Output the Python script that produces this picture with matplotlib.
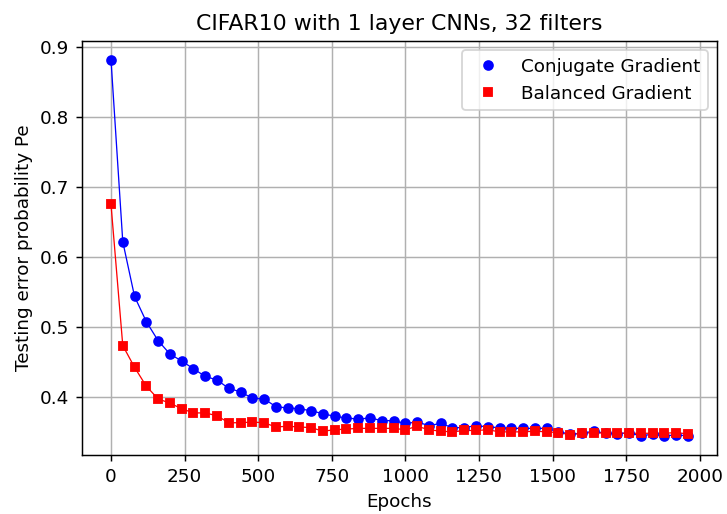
import numpy as np
import matplotlib
matplotlib.use('Agg')
import matplotlib.pyplot as plt

# test error recorded every 40 epochs
epochs = np.arange(0, 2000, 40)

conj_grad = [0.881, 0.622, 0.544, 0.508, 0.481, 0.462, 0.452, 0.441, 0.430, 0.425,
             0.413, 0.408, 0.399, 0.398, 0.387, 0.385, 0.384, 0.381, 0.377, 0.373,
             0.371, 0.369, 0.371, 0.367, 0.367, 0.363, 0.365, 0.360, 0.363, 0.357,
             0.357, 0.360, 0.358, 0.357, 0.356, 0.356, 0.356, 0.356, 0.351, 0.348,
             0.349, 0.352, 0.349, 0.348, 0.350, 0.345, 0.348, 0.345, 0.347, 0.345]

bal_grad = [0.675, 0.474, 0.443, 0.416, 0.398, 0.392, 0.384, 0.378, 0.378, 0.374,
            0.364, 0.364, 0.365, 0.364, 0.358, 0.359, 0.358, 0.357, 0.352, 0.354,
            0.355, 0.356, 0.356, 0.356, 0.356, 0.354, 0.359, 0.354, 0.352, 0.351,
            0.353, 0.353, 0.354, 0.351, 0.351, 0.351, 0.352, 0.351, 0.350, 0.347,
            0.349, 0.350, 0.349, 0.349, 0.349, 0.349, 0.349, 0.349, 0.350, 0.348]

DPI = 132
fig, ax = plt.subplots(figsize=(727 / DPI, 514 / DPI), dpi=DPI)
# connecting lines first, then the markers that carry the legend entries
ax.plot(epochs, conj_grad, color='blue', lw=0.7)
ax.plot(epochs, bal_grad, color='red', lw=0.7)
ax.plot(epochs, conj_grad, color='blue', marker='o', ms=4.8, ls='none',
        label='Conjugate Gradient')
ax.plot(epochs, bal_grad, color='red', marker='s', ms=4.8, ls='none',
        label='Balanced Gradient')
ax.grid(True, color='#b0b0b0', lw=0.8)
ax.set_xlabel('Epochs')
ax.set_ylabel('Testing error probability Pe')
ax.set_title('CIFAR10 with 1 layer CNNs, 32 filters')
ax.legend(loc='upper right')
fig.subplots_adjust(left=0.113, right=0.986, top=0.92, bottom=0.115)
fig.savefig('out.png', dpi=DPI)
